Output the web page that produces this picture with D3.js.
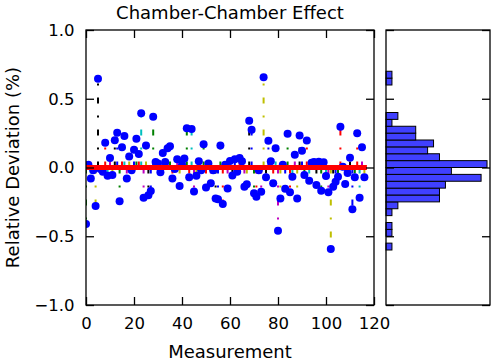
<!DOCTYPE html>
<html lang="en">
  <head>
    <meta charset="utf-8">
    <title>Chamber-Chamber Effect</title>
    <script src="https://cdn.jsdelivr.net/npm/d3@7"></script>
  </head>
  <style type="text/css">
    body { margin: 0; background: white; }
    text {
      font-family: "DejaVu Sans", sans-serif;
      fill: black;
    }
    .tick line { stroke: black; stroke-width: 1.3; }
  </style>
  <body>
    <div id="svg-area"></div>
    <script>
      const svg_width = 496;
      const svg_height = 364;

      // relative deviation (%) per measurement, index = measurement number
      const deviation = [
        -0.41, 0.02, -0.08, -0.02, -0.28, 0.645, -0.01, -0.03, 0.18, -0.06,
        0.07, -0.055, 0.198, 0.252, -0.245, 0.147, 0.23, -0.08, 0.08, -0.02,
        0.13, 0.21, 0.098, 0.395, -0.22, 0.16, -0.202, -0.17, 0.37, 0.04,
        0.03, -0.035, 0.105, 0.04, 0.14, 0.155, -0.08, -0.01, 0.06, -0.135,
        0.02, 0.065, 0.285, -0.07, 0.28, -0.175, -0.06, 0.045, -0.02, 0.17,
        -0.145, 0.03, -0.115, -0.02, -0.225, -0.23, 0.16, -0.265, 0.02, -0.153,
        0.048, -0.058, 0.06, -0.03, 0.07, 0.045, -0.14, -0.122, 0.34, 0.275,
        -0.188, -0.212, -0.02, -0.176, 0.656, -0.071, 0.195, 0.045, -0.115, 0.14,
        -0.46, -0.225, 0.02, -0.155, 0.245, -0.18, -0.067, 0.092, -0.225, 0.232,
        0.122, -0.055, 0.196, -0.096, 0.035, 0.04, -0.127, 0.042, -0.169, 0.038,
        -0.062, -0.18, -0.593, -0.14, -0.103, -0.067, 0.297, 0.005, -0.12, -0.04,
        0.071, -0.304, -0.071, 0.249, -0.22, 0.147, -0.071
      ];

      // line colour cycle (b g r c m y k)
      const cycle_colors = ['#0000ff', '#008000', '#ff0000', '#00bfbf', '#bf00bf', '#bfbf00', '#000000'];

      const x_ticks = [0, 20, 40, 60, 80, 100, 120];
      const y_ticks = [-1.0, -0.5, 0.0, 0.5, 1.0];
      const bin_edges = d3.range(-20, 21).map(k => k / 20);

      const main_left = 86, main_right = 374, plot_top = 30, plot_bottom = 305;
      const hist_left = 386, hist_right = 490;

      const x = d3.scaleLinear().domain([0, 120]).range([main_left, main_right]);
      const y = d3.scaleLinear().domain([-1, 1]).range([plot_bottom, plot_top]);

      const svg = d3.select('#svg-area')
        .append('svg')
        .attr('width', svg_width)
        .attr('height', svg_height);

      svg.append('clipPath').attr('id', 'main-clip')
        .append('rect')
        .attr('x', main_left).attr('y', plot_top)
        .attr('width', main_right - main_left).attr('height', plot_bottom - plot_top);

      const plot = svg.append('g').attr('clip-path', 'url(#main-clip)');

      //dash-dot stems from zero to each value
      plot.selectAll('path.stem')
        .data(deviation)
        .enter()
        .append('path')
        .attr('class', 'stem')
        .attr('d', (d, i) => `M${x(i)},${y(0)}L${x(i)},${y(d)}`)
        .attr('fill', 'none')
        .attr('stroke', (d, i) => cycle_colors[(i + 1) % 7])
        .attr('stroke-width', 2)
        .attr('stroke-dasharray', '6,12,2,12');

      //points
      plot.selectAll('circle.pt')
        .data(deviation)
        .enter()
        .append('circle')
        .attr('class', 'pt')
        .attr('cx', (d, i) => x(i))
        .attr('cy', d => y(d))
        .attr('r', 4)
        .attr('fill', '#0000ff');

      //thick red zero line
      plot.append('path')
        .datum(deviation)
        .attr('d', d3.line().x((d, i) => x(i)).y(() => y(0)))
        .attr('fill', 'none')
        .attr('stroke', '#ff0000')
        .attr('stroke-width', 5)
        .attr('stroke-linecap', 'square');

      //axes of the main plot
      const fmt = d3.format('.1f');
      svg.append('g')
        .attr('transform', `translate(0,${plot_bottom})`)
        .call(d3.axisBottom(x).tickValues(x_ticks).tickSize(-8).tickPadding(12).tickFormat(d3.format('d')))
        .call(g => g.select('.domain').remove())
        .call(g => g.selectAll('text').attr('font-size', 16.5).attr('font-family', 'DejaVu Sans'));
      svg.append('g')
        .attr('transform', `translate(0,${plot_top})`)
        .call(d3.axisTop(x).tickValues(x_ticks).tickSize(-8).tickFormat(''))
        .call(g => g.select('.domain').remove());
      svg.append('g')
        .attr('transform', `translate(${main_left},0)`)
        .call(d3.axisLeft(y).tickValues(y_ticks).tickSize(-8).tickPadding(11.5).tickFormat(fmt))
        .call(g => g.select('.domain').remove())
        .call(g => g.selectAll('text').attr('font-size', 16.5).attr('font-family', 'DejaVu Sans'));
      svg.append('g')
        .attr('transform', `translate(${main_right},0)`)
        .call(d3.axisRight(y).tickValues(y_ticks).tickSize(-8).tickFormat(''))
        .call(g => g.select('.domain').remove());

      svg.append('rect')
        .attr('x', main_left).attr('y', plot_top)
        .attr('width', main_right - main_left).attr('height', plot_bottom - plot_top)
        .attr('fill', 'none').attr('stroke', 'black').attr('stroke-width', 1.3);

      svg.append('text')
        .attr('x', (main_left + main_right) / 2).attr('y', 18.5)
        .attr('text-anchor', 'middle').attr('font-size', 18)
        .text('Chamber-Chamber Effect');
      svg.append('text')
        .attr('x', (main_left + main_right) / 2).attr('y', 358)
        .attr('text-anchor', 'middle').attr('font-size', 18)
        .text('Measurement');
      svg.append('text')
        .attr('transform', `translate(19,${(plot_top + plot_bottom) / 2}) rotate(-90)`)
        .attr('text-anchor', 'middle').attr('font-size', 18)
        .text('Relative Deviation (%)');

      //histogram of the deviations
      const bins = d3.bin().domain([-1, 1]).thresholds(bin_edges.slice(1, -1))(deviation);
      const hx = d3.scaleLinear().domain([0, 17.5]).range([hist_left, hist_right]);

      svg.append('g').selectAll('rect')
        .data(bins.filter(b => b.length > 0))
        .enter()
        .append('rect')
        .attr('x', hx(0))
        .attr('y', b => y(b.x1))
        .attr('width', b => hx(b.length) - hx(0))
        .attr('height', b => y(b.x0) - y(b.x1))
        .attr('fill', '#4040ff')
        .attr('stroke', 'black')
        .attr('stroke-width', 1);

      svg.append('g')
        .attr('transform', `translate(${hist_left},0)`)
        .call(d3.axisLeft(y).tickValues(y_ticks).tickSize(-8).tickFormat(''))
        .call(g => g.select('.domain').remove());
      svg.append('g')
        .attr('transform', `translate(${hist_right},0)`)
        .call(d3.axisRight(y).tickValues(y_ticks).tickSize(-8).tickFormat(''))
        .call(g => g.select('.domain').remove());

      svg.append('rect')
        .attr('x', hist_left).attr('y', plot_top)
        .attr('width', hist_right - hist_left).attr('height', plot_bottom - plot_top)
        .attr('fill', 'none').attr('stroke', 'black').attr('stroke-width', 1.3);
    </script>
  </body>
</html>
